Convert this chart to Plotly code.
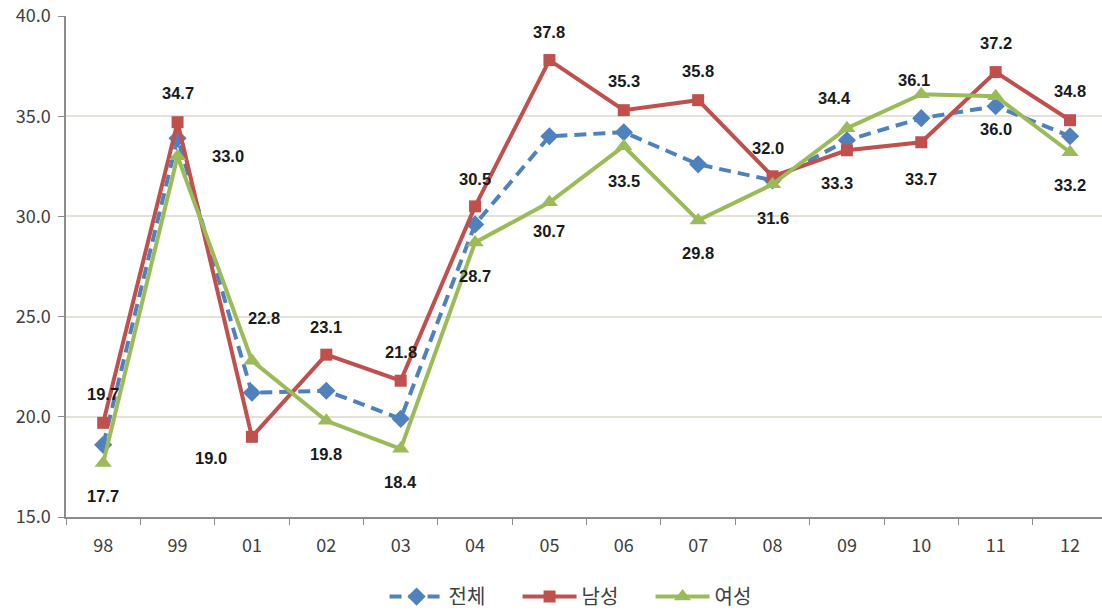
import plotly.graph_objects as go

# Survey years (two-digit labels)
years = ["98", "99", "01", "02", "03", "04", "05", "06", "07", "08", "09", "10", "11", "12"]

# Rates by group
total = [18.6, 33.9, 21.2, 21.3, 19.9, 29.6, 34.0, 34.2, 32.6, 31.8, 33.8, 34.9, 35.5, 34.0]
male = [19.7, 34.7, 19.0, 23.1, 21.8, 30.5, 37.8, 35.3, 35.8, 32.0, 33.3, 33.7, 37.2, 34.8]
female = [17.7, 33.0, 22.8, 19.8, 18.4, 28.7, 30.7, 33.5, 29.8, 31.6, 34.4, 36.1, 36.0, 33.2]

# Label offsets (pixels) for the male / female value labels
male_shift = [(0, 29), (0, 29), (-41, -21), (0, 28), (0, 29), (0, 27), (0, 28),
              (0, 29), (0, 29), (-5, 28), (-10, -33), (0, -37), (0, 29), (0, 29)]
female_shift = [(0, -33), (50, 0), (12, 43), (0, -33), (0, -33), (0, -34), (0, -29),
                (0, -35), (0, -33), (0, -34), (-12, 30), (-7, 14), (0, -33), (0, -33)]

BLUE = "#4F81BD"
RED = "#C0504D"
GREEN = "#9BBB59"

fig = go.Figure()
fig.add_trace(go.Scatter(
    x=years, y=total, name="전체", mode="lines+markers",
    line=dict(color=BLUE, width=4, dash="12px,7px"),
    marker=dict(symbol="diamond", size=14, color=BLUE),
))
fig.add_trace(go.Scatter(
    x=years, y=male, name="남성", mode="lines+markers",
    line=dict(color=RED, width=4),
    marker=dict(symbol="square", size=12, color=RED),
))
fig.add_trace(go.Scatter(
    x=years, y=female, name="여성", mode="lines+markers",
    line=dict(color=GREEN, width=4),
    marker=dict(symbol="triangle-up", size=15, color=GREEN),
))

label_font = dict(family="Liberation Sans, Arial, sans-serif", size=16.5, color="#1a1a1a")
for vals, shifts in ((male, male_shift), (female, female_shift)):
    for i, (v, (dx, dy)) in enumerate(zip(vals, shifts)):
        # category position given by index so numeric-looking names are not misread
        fig.add_annotation(
            x=i, y=v, text=f"<b>{v:.1f}</b>", showarrow=False,
            xshift=dx, yshift=dy, font=label_font,
        )

fig.update_layout(
    width=1102, height=610,
    margin=dict(l=66, r=0, t=16, b=93),
    paper_bgcolor="white", plot_bgcolor="white",
    font=dict(family="Noto Sans CJK KR, sans-serif", size=18, color="#404040"),
    showlegend=True,
    legend=dict(
        orientation="h", xref="container", yref="container",
        x=0.53, y=0.022, xanchor="center", yanchor="middle",
        font=dict(size=20, color="#404040"),
        itemwidth=54, entrywidth=64,
    ),
)
fig.update_xaxes(
    type="category", range=[-0.5, 13.43],
    showline=True, linecolor="#8c8c8c", linewidth=1.5,
    ticks="outside", tickson="boundaries", ticklen=6, tickcolor="#8c8c8c",
    showgrid=False, tickfont=dict(size=18), ticklabelstandoff=12,
)
fig.update_yaxes(
    range=[15, 40], dtick=5, tickformat=".1f",
    showline=True, linecolor="#8c8c8c", linewidth=1.5,
    ticks="outside", ticklen=6, tickcolor="#8c8c8c",
    showgrid=True, gridcolor="#e4e2d8", gridwidth=1.5,
    zeroline=False, tickfont=dict(size=18), ticklabelstandoff=4,
)

fig.write_html("out.html")
